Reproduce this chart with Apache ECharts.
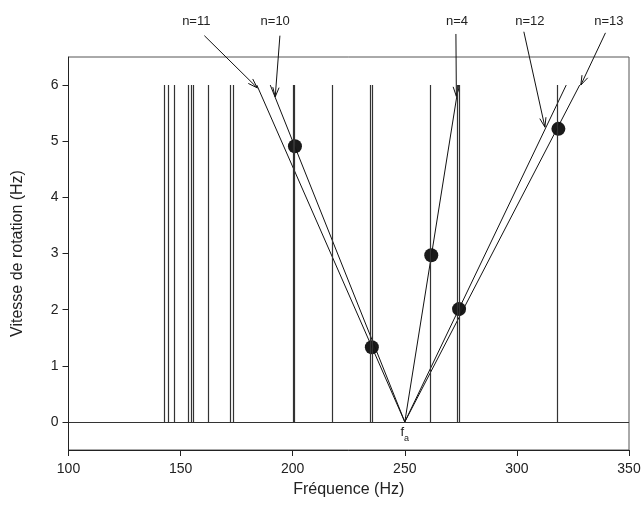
<!DOCTYPE html>
<html>
<head>
<meta charset="utf-8">
<script src="https://cdn.jsdelivr.net/npm/echarts@6/dist/echarts.min.js"></script>
<style>html,body{margin:0;padding:0;background:#fff}#c{width:644px;height:517px}</style>
</head>
<body>
<div id="c"></div>
<script>
// ---- data ----
var xTicks = [100, 150, 200, 250, 300, 350];
var yTicks = [0, 1, 2, 3, 4, 5, 6];
var fa = 250;
var vMax = 6;
var peakFreqs = [142.8, 144.4, 147.1, 153.6, 154.6, 155.7, 162.2, 172.0, 173.6,
                 200.1, 200.8, 217.6, 234.8, 235.5, 261.5, 273.6, 274.5, 318.0];
var lineNames = ['n=11', 'n=10', 'n=4', 'n=12', 'n=13'];
var lineTopFreqs = [184, 190, 274, 322, 328];
var pointFreqs = [201.0, 235.3, 261.8, 274.2, 318.5];
var pointSpeeds = [4.91, 1.33, 2.97, 2.01, 5.22];
// annotation arrows: start [f, v], end [f, v], label [f, v]
var arrowStarts = [[160.6, 6.88], [194.3, 6.88], [272.8, 6.91], [303.1, 6.95], [339.5, 6.93]];
var arrowEnds = [[184.2, 5.95], [192.2, 5.79], [273.0, 5.80], [312.5, 5.25], [328.5, 6.0]];
var labelPos = [[157.0, 7.14], [192.2, 7.14], [273.3, 7.14], [305.8, 7.14], [341.0, 7.14]];

var FONT = '"Liberation Sans", Arial, sans-serif';
var chart = echarts.init(document.getElementById('c'), null, {renderer: 'canvas'});

var series = [];
// vertical peak lines + zero line
series.push({
  type: 'line', data: [], silent: true,
  markLine: {
    silent: true, symbol: ['none', 'none'], animation: false,
    lineStyle: {color: '#333', width: 1.2, type: 'solid'},
    label: {show: false},
    data: peakFreqs.map(function (f) { return [{coord: [f, 0]}, {coord: [f, vMax]}]; })
      .concat([[{coord: [xTicks[0], 0]}, {coord: [xTicks[xTicks.length - 1], 0]}]])
  }
});
// diagonal lines
lineTopFreqs.forEach(function (f, i) {
  series.push({
    type: 'line', name: lineNames[i], data: [[fa, 0], [f, vMax]],
    symbol: 'none', silent: true, animation: false,
    lineStyle: {color: '#111', width: 1}
  });
});
// points
series.push({
  type: 'scatter', data: pointFreqs.map(function (f, i) { return [f, pointSpeeds[i]]; }),
  symbol: 'circle', symbolSize: 14, animation: false,
  itemStyle: {color: '#1a1a1a', opacity: 1}
});

chart.setOption({
  animation: false,
  backgroundColor: '#fff',
  grid: {left: 68.5, right: 15, top: 57, bottom: 67, show: true, borderColor: '#555', borderWidth: 1, backgroundColor: 'transparent'},
  xAxis: {
    type: 'value', min: 100, max: 350, interval: 50,
    name: 'Fréquence (Hz)', nameLocation: 'middle', nameGap: 32,
    nameTextStyle: {fontFamily: FONT, fontSize: 16, color: '#222'},
    axisLine: {show: true, onZero: false, lineStyle: {color: '#222', width: 1}},
    axisTick: {show: true, inside: false, length: 6, lineStyle: {color: '#222'}},
    axisLabel: {fontFamily: FONT, fontSize: 14, color: '#222', margin: 12},
    splitLine: {show: false}
  },
  yAxis: {
    type: 'value', min: -0.5, max: 6.5,
    name: 'Vitesse de rotation (Hz)', nameLocation: 'middle', nameGap: 43,
    nameTextStyle: {fontFamily: FONT, fontSize: 16, color: '#222'},
    axisLine: {show: true, onZero: false, lineStyle: {color: '#222', width: 1}},
    axisTick: {show: true, inside: false, length: 6, lineStyle: {color: '#222'}, customValues: yTicks},
    axisLabel: {fontFamily: FONT, fontSize: 14, color: '#222', margin: 10, customValues: yTicks},
    splitLine: {show: false}
  },
  series: series
});

function px(p) { return chart.convertToPixel({gridIndex: 0}, p); }
var graphics = [];
arrowStarts.forEach(function (s, i) {
  var a = px(s), b = px(arrowEnds[i]);
  graphics.push({type: 'line', shape: {x1: a[0], y1: a[1], x2: b[0], y2: b[1]},
    style: {stroke: '#111', lineWidth: 1}, silent: true});
  var ang = Math.atan2(b[1] - a[1], b[0] - a[0]);
  var L = 10, h = 0.32;
  var p1 = [b[0] - L * Math.cos(ang - h), b[1] - L * Math.sin(ang - h)];
  var p2 = [b[0] - L * Math.cos(ang + h), b[1] - L * Math.sin(ang + h)];
  graphics.push({type: 'polyline', shape: {points: [p1, b, p2]},
    style: {stroke: '#111', lineWidth: 1, fill: null}, silent: true});
  var lp = px(labelPos[i]);
  graphics.push({type: 'text', x: lp[0], y: lp[1], silent: true,
    style: {text: lineNames[i], fontFamily: FONT, fontSize: 13, fill: '#222', align: 'center', verticalAlign: 'middle'}});
});
var fp = px([fa, -0.23]);
graphics.push({type: 'text', x: fp[0], y: fp[1], silent: true,
  style: {text: '{f|f}{s|a}', align: 'center', verticalAlign: 'middle',
    rich: {f: {fontFamily: FONT, fontSize: 13, fill: '#222', verticalAlign: 'top'},
           s: {fontFamily: FONT, fontSize: 9, fill: '#222', padding: [8, 0, 0, 0], verticalAlign: 'bottom'}}}});
chart.setOption({graphic: graphics});
</script>
</body>
</html>
